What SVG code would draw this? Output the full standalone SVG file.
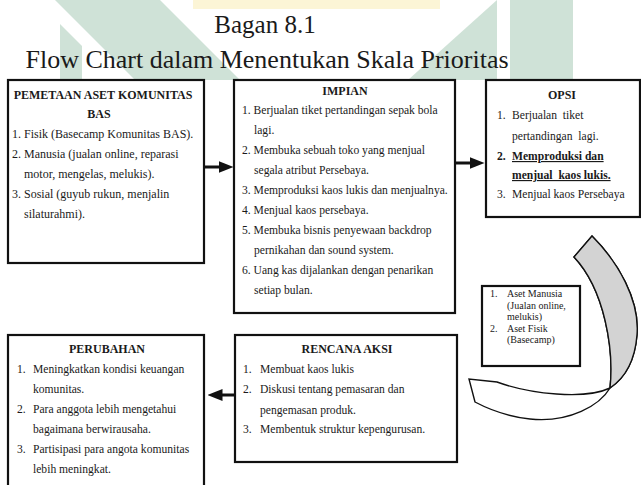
<svg xmlns="http://www.w3.org/2000/svg" width="641" height="485" viewBox="0 0 641 485">
<style>
.t{font-family:"Liberation Serif","Times New Roman",serif;fill:#1a1a1a;font-size:11.6px}
.h{font-weight:bold;text-anchor:middle;font-size:12px}
.b{font-weight:bold;text-decoration:underline}
.p{white-space:pre}
.s{font-size:10px}
.box{fill:#fff;stroke:#111;stroke-width:2.2}
.wm{fill:#cfe2d7}
</style>
<defs>
<marker id="ah" markerWidth="5" markerHeight="4" refX="0.5" refY="2" orient="auto" markerUnits="strokeWidth">
<path d="M0,0 L5,2 L0,4 Z" fill="#111"/>
</marker>
</defs>
<rect width="641" height="485" fill="#fff"/>
<g id="watermark">
<rect x="193" y="0" width="247" height="9" fill="#fcf5d6"/>
<polygon class="wm" points="55,0 160,0 240,80 135,80"/>
<polygon class="wm" points="60,24 82,46 82,80 60,80"/>
<polygon class="wm" points="497,0 497,80 408,80"/>
<rect class="wm" x="510" y="0" width="63" height="80"/>
</g>
<g id="title">
<text class="t" x="265" y="33" text-anchor="middle" style="font-size:25px">Bagan 8.1</text>
<text class="t" x="267" y="68" text-anchor="middle" style="font-size:26px">Flow Chart dalam Menentukan Skala Prioritas</text>
</g>
<g id="connectors" stroke="#111" stroke-width="3" fill="none">
<line x1="204" y1="167" x2="220" y2="167" marker-end="url(#ah)"/>
<line x1="455" y1="163" x2="471" y2="163" marker-end="url(#ah)"/>
<line x1="235" y1="395" x2="221" y2="395" marker-end="url(#ah)"/>
<g id="curved-arrow" stroke-width="1.4">
<path d="M592,236 C618,262 640,300 637,335 C635,360 625,378 610,388 C600,405 570,423 530,419 C512,417 492,411 475,402 L469,379 L497,382 C530,394 585,400 610,388 C614,350 605,290 574,257 Z" fill="#fff"/>
<path d="M592,236 C618,262 640,300 637,335 C635,360 625,378 610,388 C614,350 605,290 574,257 Z" fill="#d3d3d3"/>
</g>
</g>
<g id="node-pemetaan">
<rect class="box" x="8" y="80" width="196" height="183"/>
<text class="t h" x="103" y="99">PEMETAAN ASET KOMUNITAS</text>
<text class="t h" x="99" y="118">BAS</text>
<g style="font-size:12px">
<text class="t" x="12" y="138" style="font-size:12px">1. Fisik (Basecamp Komunitas BAS).</text>
<text class="t" x="12" y="158" style="font-size:12px">2. Manusia (jualan online, reparasi</text>
<text class="t" x="24" y="178" style="font-size:12px">motor, mengelas, melukis).</text>
<text class="t" x="12" y="198" style="font-size:12px">3. Sosial (guyub rukun, menjalin</text>
<text class="t" x="24" y="218" style="font-size:12px">silaturahmi).</text>
</g>
</g>
<g id="node-impian">
<rect class="box" x="234" y="80" width="221" height="233"/>
<text class="t h" x="345" y="95">IMPIAN</text>
<text class="t" x="242" y="114">1. Berjualan tiket pertandingan sepak bola</text>
<text class="t" x="254" y="134">lagi.</text>
<text class="t" x="242" y="154">2. Membuka sebuah toko yang menjual</text>
<text class="t" x="254" y="174">segala atribut Persebaya.</text>
<text class="t" x="242" y="194">3. Memproduksi kaos lukis dan menjualnya.</text>
<text class="t" x="242" y="214">4. Menjual kaos persebaya.</text>
<text class="t" x="242" y="234">5. Membuka bisnis penyewaan backdrop</text>
<text class="t" x="254" y="254">pernikahan dan sound system.</text>
<text class="t" x="242" y="274">6. Uang kas dijalankan dengan penarikan</text>
<text class="t" x="254" y="294">setiap bulan.</text>
</g>
<g id="node-opsi">
<rect class="box" x="486" y="80" width="154" height="137"/>
<text class="t h" x="562" y="99">OPSI</text>
<text class="t" x="497" y="119">1.</text>
<text class="t p" x="512" y="119">Berjualan  tiket</text>
<text class="t p" x="512" y="140">pertandingan  lagi.</text>
<text class="t" x="497" y="160" font-weight="bold">2.</text>
<text class="t b" x="512" y="160">Memproduksi dan</text>
<text class="t b p" x="512" y="179">menjual  kaos lukis.</text>
<text class="t" x="497" y="198">3.</text>
<text class="t" x="512" y="198">Menjual kaos Persebaya</text>
</g>
<g id="node-aset">
<rect class="box" x="482" y="286" width="98" height="80"/>
<text class="t s" x="490" y="297">1.</text>
<text class="t s" x="507" y="297">Aset Manusia</text>
<text class="t s" x="507" y="309">(Jualan online,</text>
<text class="t s" x="507" y="320">melukis)</text>
<text class="t s" x="490" y="332">2.</text>
<text class="t s" x="507" y="332">Aset Fisik</text>
<text class="t s" x="507" y="343">(Basecamp)</text>
</g>
<g id="node-rencana">
<rect class="box" x="235" y="335" width="222" height="127"/>
<text class="t h" x="347" y="353">RENCANA AKSI</text>
<text class="t" x="243" y="373">1.</text>
<text class="t" x="260" y="373">Membuat kaos lukis</text>
<text class="t" x="243" y="393">2.</text>
<text class="t" x="260" y="393">Diskusi tentang pemasaran dan</text>
<text class="t" x="260" y="414">pengemasan produk.</text>
<text class="t" x="243" y="433">3.</text>
<text class="t" x="260" y="433">Membentuk struktur kepengurusan.</text>
</g>
<g id="node-perubahan">
<rect class="box" x="8" y="335" width="196" height="160"/>
<text class="t h" x="107" y="353">PERUBAHAN</text>
<text class="t" x="17" y="373">1.</text>
<text class="t" x="33" y="373">Meningkatkan kondisi keuangan</text>
<text class="t" x="33" y="393">komunitas.</text>
<text class="t" x="17" y="413">2.</text>
<text class="t" x="33" y="413">Para anggota lebih mengetahui</text>
<text class="t" x="33" y="433">bagaimana berwirausaha.</text>
<text class="t" x="17" y="453">3.</text>
<text class="t" x="33" y="453">Partisipasi para angota komunitas</text>
<text class="t" x="33" y="473">lebih meningkat.</text>
</g>
</svg>
